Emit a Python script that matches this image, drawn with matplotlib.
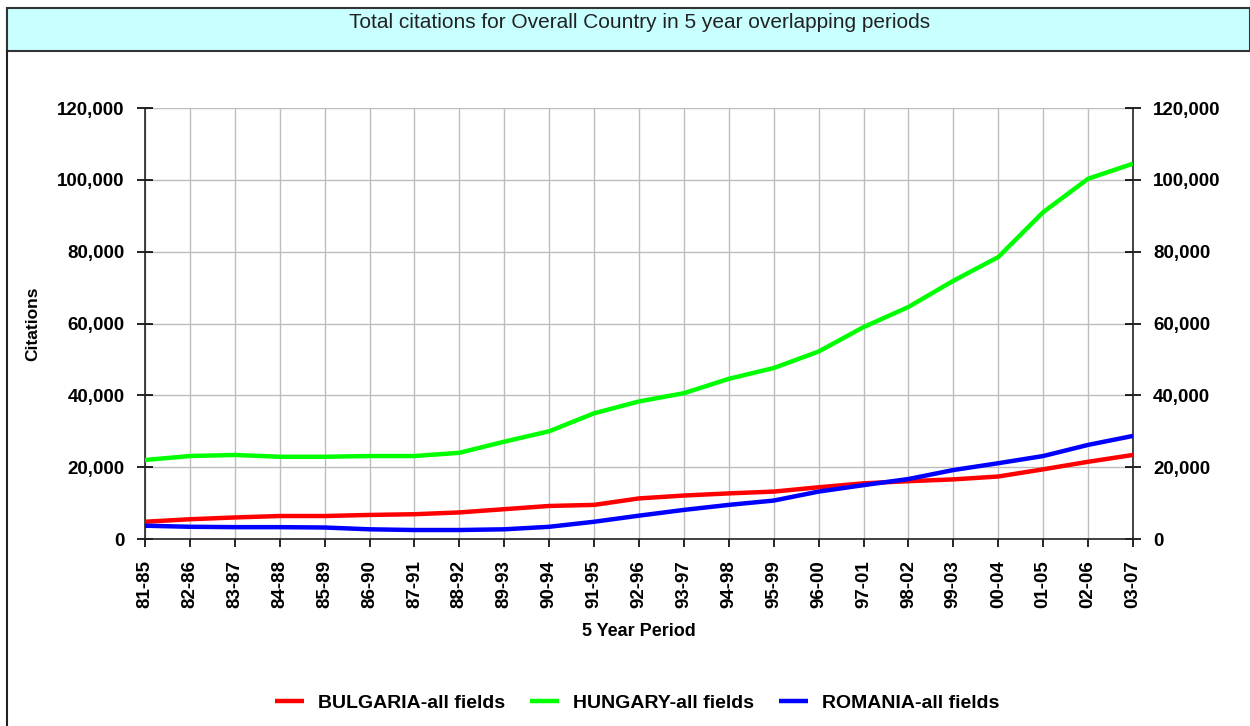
import matplotlib.pyplot as plt
from matplotlib.patches import Rectangle
from matplotlib.lines import Line2D
from matplotlib.ticker import FuncFormatter

periods = ['81-85', '82-86', '83-87', '84-88', '85-89', '86-90', '87-91', '88-92',
           '89-93', '90-94', '91-95', '92-96', '93-97', '94-98', '95-99', '96-00',
           '97-01', '98-02', '99-03', '00-04', '01-05', '02-06', '03-07']
bulgaria = [4800, 5500, 6000, 6400, 6400, 6700, 6900, 7400, 8300, 9200, 9500, 11300,
            12100, 12700, 13200, 14400, 15500, 16100, 16600, 17400, 19400, 21500, 23400]
hungary = [22000, 23100, 23400, 22900, 22900, 23100, 23100, 24000, 27100, 30000, 35000,
           38300, 40600, 44600, 47600, 52200, 59000, 64600, 71900, 78500, 91000, 100300, 104500]
romania = [3700, 3400, 3300, 3300, 3200, 2700, 2500, 2500, 2700, 3400, 4800, 6500,
           8100, 9500, 10700, 13200, 15000, 16700, 19200, 21100, 23100, 26200, 28700]
series_names = ['BULGARIA-all fields', 'HUNGARY-all fields', 'ROMANIA-all fields']
series_colors = ['#ff0000', '#00ff00', '#0000ff']
yticks = [0, 20000, 40000, 60000, 80000, 100000, 120000]

plt.rcParams['font.family'] = ['Liberation Sans', 'DejaVu Sans']

W, H = 1250, 726
fig = plt.figure(figsize=(W / 100, H / 100), dpi=100)

# title band and frame
fig.add_artist(Rectangle((7 / W, 1 - 51 / H), 1 - 7 / W, 43 / H, transform=fig.transFigure,
                         facecolor='#c8ffff', edgecolor='#333333', lw=1.5))
fig.add_artist(Line2D([7 / W, 7 / W], [0, 1 - 51 / H], transform=fig.transFigure,
                      color='#222222', lw=1.5))
fig.text(640 / W, 1 - 23 / H, 'Total citations for Overall Country in 5 year overlapping periods',
         ha='center', va='center', fontsize=15, color='#222222')

# axes in figure co-ordinates: [left, bottom, width, height]
ax = fig.add_axes([145 / W, 1 - 539 / H, (1133 - 145) / W, (539 - 108) / H])

x = list(range(len(periods)))
for vals, name, col in zip([bulgaria, hungary, romania], series_names, series_colors):
    ax.plot(x, vals, color=col, lw=3.2, label=name, solid_capstyle='butt', zorder=3)

ax.set_xlim(0, len(periods) - 1)
ax.set_ylim(0, 120000)
ax.set_xticks(x)
ax.set_xticklabels(periods, rotation=90, fontsize=13.5, fontweight='bold')
ax.set_yticks(yticks)
fmt = FuncFormatter(lambda v, p: f'{int(v):,}')
ax.yaxis.set_major_formatter(fmt)
ax.tick_params(axis='y', direction='inout', length=11, width=1.2, labelsize=13.5,
               left=True, right=True, labelleft=True, labelright=True, pad=9)
ax.tick_params(axis='x', direction='out', length=6, width=1.2, pad=9)
for lab in ax.get_yticklabels():
    lab.set_fontweight('bold')
ax.grid(True, color='#bdbdbd', lw=1)
ax.spines['top'].set_visible(False)
for s in ['left', 'right', 'bottom']:
    ax.spines[s].set_color('#222222')
    ax.spines[s].set_linewidth(1.2)

ax.set_ylabel('Citations', fontsize=12.5, fontweight='bold')
ax.yaxis.set_label_coords(-(145 - 40) / (1133 - 145), 0.5)
ax.set_xlabel('5 Year Period', fontsize=13, fontweight='bold')
ax.xaxis.set_label_coords(0.5, -(623 - 539) / (539 - 108))

leg = fig.legend(loc='center', bbox_to_anchor=(637 / W, 1 - 703 / H), ncol=3, frameon=False,
                 prop={'size': 14, 'weight': 'bold'}, handlelength=1.5, handletextpad=0.7,
                 columnspacing=1.3)

fig.savefig('out.png', dpi=100)
